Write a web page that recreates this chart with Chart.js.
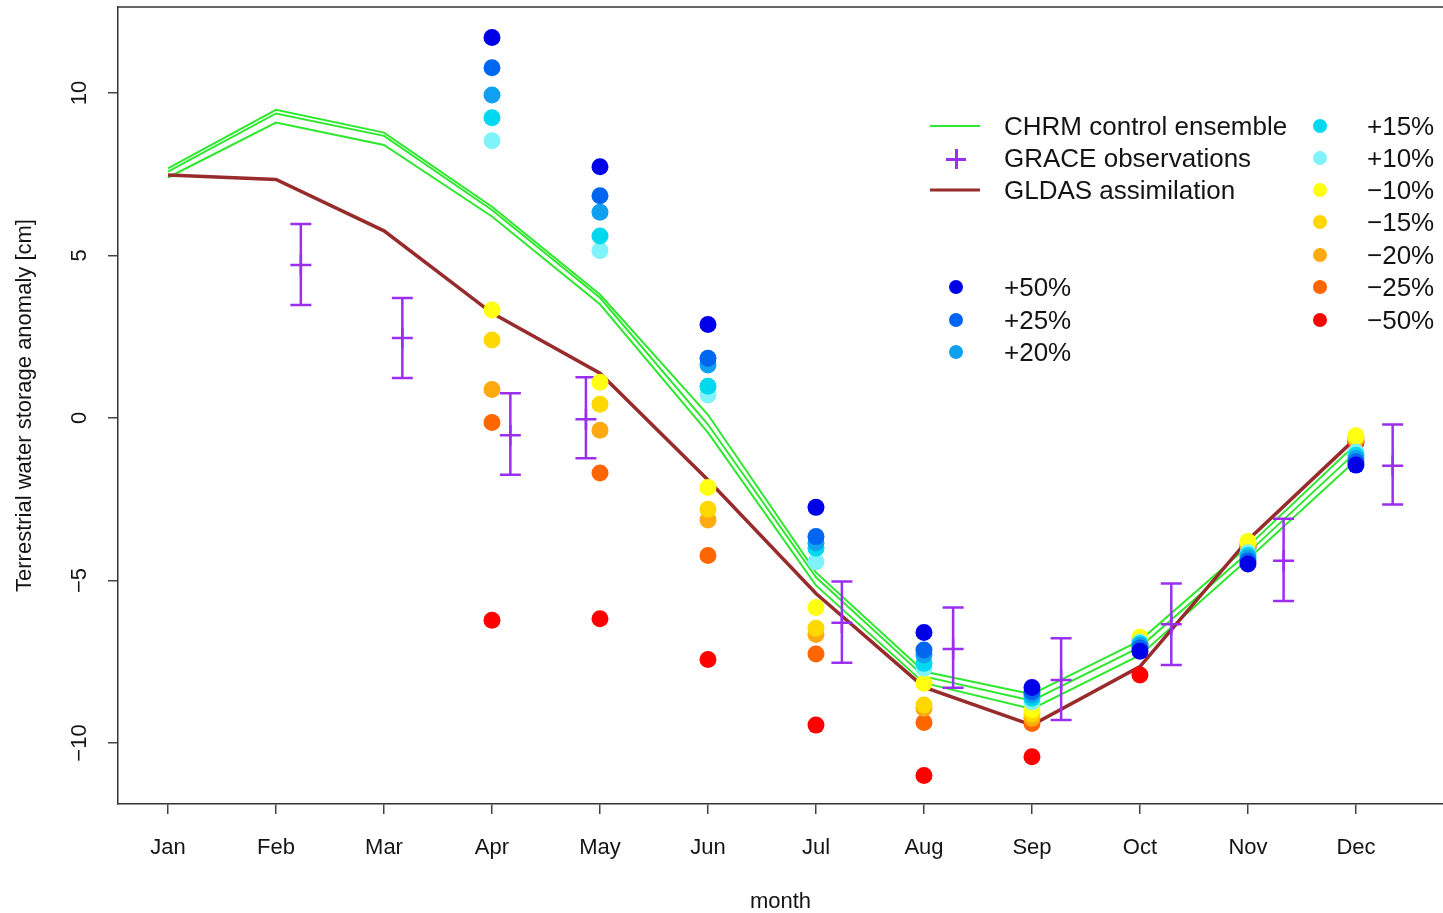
<!DOCTYPE html>
<html>
<head>
<meta charset="utf-8">
<script src="https://cdn.jsdelivr.net/npm/chart.js@4.4.0/dist/chart.umd.min.js"></script>
<style>
  html, body { margin: 0; padding: 0; background: #fff; }
  #wrap { position: relative; width: 1443px; height: 913px; overflow: hidden;
          font-family: "Liberation Sans", Arial, sans-serif; }
  canvas { display: block; }
  .lg-text { position: absolute; font-size: 26px; line-height: 1; color: #141414;
             white-space: nowrap; transform: translateY(-50%); }
  .lg-line { position: absolute; width: 50px; transform: translateY(-50%); }
  .lg-dot { position: absolute; width: 14px; height: 14px; border-radius: 50%;
            transform: translate(-50%, -50%); }
  .lg-plus { position: absolute; width: 20px; height: 20px; transform: translate(-50%, -50%); }
  .lg-plus:before, .lg-plus:after { content: ""; position: absolute; background: #9a2ff0; }
  .lg-plus:before { left: 0; right: 0; top: 9px; height: 2.5px; }
  .lg-plus:after { top: 0; bottom: 0; left: 9px; width: 2.5px; }
</style>
</head>
<body>
<div id="wrap">
  <canvas id="c" width="1443" height="913"></canvas>
  <div id="legend"></div>
</div>
<script>
// month axis
const months = ['Jan', 'Feb', 'Mar', 'Apr', 'May', 'Jun', 'Jul', 'Aug', 'Sep', 'Oct', 'Nov', 'Dec'];
const monthNum = [1, 2, 3, 4, 5, 6, 7, 8, 9, 10, 11, 12];
const yTicks = [-10, -5, 0, 5, 10];

// CHRM control ensemble (three members)
const chrmA = [7.68, 9.48, 8.78, 6.50, 3.80, 0.10, -4.75, -7.80, -8.50, -6.85, -3.95, -0.80];
const chrmB = [7.58, 9.37, 8.68, 6.40, 3.70, -0.20, -4.90, -7.95, -8.70, -7.05, -4.15, -1.05];
const chrmC = [7.40, 9.09, 8.40, 6.20, 3.50, -0.45, -5.15, -8.15, -8.95, -7.30, -4.35, -1.30];

// GLDAS assimilation
const gldas = [7.48, 7.34, 5.76, 3.23, 1.38, -1.91, -5.40, -8.28, -9.45, -7.65, -3.75, -0.62];

// GRACE observations with error range
const graceMonth = [2.23, 3.17, 4.17, 4.87, 7.24, 8.27, 9.27, 10.29, 11.33, 12.34];
const graceMean = [4.71, 2.46, -0.53, -0.04, -6.30, -7.11, -8.06, -6.35, -4.39, -1.47];
const graceLow = [3.48, 1.23, -1.75, -1.24, -7.53, -8.30, -9.29, -7.60, -5.63, -2.66];
const graceHigh = [5.97, 3.69, 0.76, 1.25, -5.03, -5.83, -6.78, -5.09, -3.10, -0.20];

// sensitivity runs, Apr..Dec
const sensMonths = [4, 5, 6, 7, 8, 9, 10, 11, 12];
const p50 = [11.71, 7.73, 2.88, -2.75, -6.60, -8.29, -7.18, -4.49, -1.45];
const p25 = [10.78, 6.84, 1.84, -3.65, -7.14, -8.42, -7.08, -4.40, -1.35];
const p20 = [9.94, 6.33, 1.63, -3.84, -7.29, -8.52, -7.00, -4.30, -1.25];
const p15 = [9.24, 5.60, 0.98, -4.01, -7.55, -8.62, -6.95, -4.22, -1.15];
const p10 = [8.53, 5.15, 0.71, -4.42, -7.70, -8.73, -6.90, -4.15, -1.05];
const m10 = [3.32, 1.10, -2.14, -5.83, -8.16, -8.98, -6.75, -3.80, -0.55];
const m15 = [2.40, 0.42, -2.81, -6.47, -8.83, -9.11, -6.80, -3.85, -0.60];
const m20 = [0.88, -0.38, -3.14, -6.66, -8.93, -9.24, -6.85, -3.90, -0.65];
const m25 = [-0.14, -1.69, -4.23, -7.26, -9.37, -9.40, -6.95, -3.95, -0.70];
const m50 = [-6.22, -6.18, -7.43, -9.45, -11.00, -10.42, -7.91, -4.00, -0.75];

const sensLabels = ['+50%', '+25%', '+20%', '+15%', '+10%', '\u221210%', '\u221215%', '\u221220%', '\u221225%', '\u221250%'];
const sensSeries = [p50, p25, p20, p15, p10, m10, m15, m20, m25, m50];
const sensColors = ['#0000e8', '#0066f0', '#10a0f0', '#00d8f0', '#80f2fa', '#ffff10', '#ffd800', '#ffaa10', '#ff6600', '#ff0000'];

const GREEN = '#2ee82e';
const BROWN = '#982b2b';
const PURPLE = '#9a2ff0';
const FONT = '"Liberation Sans", Arial, sans-serif';

Chart.defaults.font.family = FONT;

const pts = (xs, ys) => xs.map((x, i) => ({ x: x, y: ys[i] }));

const datasets = [];
sensSeries.forEach((s, i) => {
    datasets.push({
        label: sensLabels[i],
        data: pts(sensMonths, s),
        showLine: false,
        pointRadius: 8.5,
        pointBorderWidth: 0,
        pointBackgroundColor: sensColors[i],
        order: i + 1
    });
});
datasets.push({
    label: 'GRACE observations',
    data: pts(graceMonth, graceMean),
    showLine: false,
    pointStyle: 'cross',
    pointRadius: 10.5,
    pointBorderWidth: 2.5,
    pointBorderColor: PURPLE,
    order: 11
});
datasets.push({
    label: 'GLDAS assimilation',
    data: pts(monthNum, gldas),
    borderColor: BROWN,
    borderWidth: 3.5,
    pointRadius: 0,
    tension: 0,
    order: 12
});
[chrmA, chrmB, chrmC].forEach((s, i) => {
    datasets.push({
        label: 'CHRM control ensemble',
        data: pts(monthNum, s),
        borderColor: GREEN,
        borderWidth: 2,
        pointRadius: 0,
        tension: 0,
        order: 13 + i
    });
});
const graceIndex = sensSeries.length;

// error bars for GRACE
const errorBars = {
    id: 'errorBars',
    afterDatasetDraw(chart, args) {
        if (args.index !== graceIndex) return;
        const { ctx, scales: { x, y } } = chart;
        ctx.save();
        ctx.strokeStyle = PURPLE;
        ctx.lineWidth = 2.5;
        graceMonth.forEach((m, i) => {
            const px = x.getPixelForValue(m);
            const lo = y.getPixelForValue(graceLow[i]);
            const hi = y.getPixelForValue(graceHigh[i]);
            ctx.beginPath();
            ctx.moveTo(px, lo); ctx.lineTo(px, hi);
            ctx.moveTo(px - 10.5, lo); ctx.lineTo(px + 10.5, lo);
            ctx.moveTo(px - 10.5, hi); ctx.lineTo(px + 10.5, hi);
            ctx.stroke();
        });
        ctx.restore();
    }
};

// frame top line + rotated y tick labels
const frame = {
    id: 'frame',
    afterDraw(chart) {
        const { ctx, chartArea: a, scales: { y } } = chart;
        ctx.save();
        ctx.strokeStyle = '#333';
        ctx.lineWidth = 1.5;
        ctx.beginPath();
        ctx.moveTo(a.left, a.top); ctx.lineTo(a.right, a.top);
        ctx.stroke();
        ctx.fillStyle = '#141414';
        ctx.font = '22px ' + FONT;
        ctx.textAlign = 'center';
        ctx.textBaseline = 'middle';
        yTicks.forEach(v => {
            ctx.save();
            ctx.translate(80, y.getPixelForValue(v));
            ctx.rotate(-Math.PI / 2);
            ctx.fillText(String(v).replace('-', '\u2212'), 0, 0);
            ctx.restore();
        });
        ctx.restore();
    }
};

const noPad = s => {
    s.paddingLeft = 0; s.paddingRight = 0;
    s.paddingTop = 0; s.paddingBottom = 0;
};

new Chart(document.getElementById('c'), {
    type: 'line',
    data: { datasets: datasets },
    options: {
        responsive: false,
        animation: false,
        layout: { autoPadding: false, padding: { top: 7, right: 0, bottom: 0, left: 0 } },
        plugins: { legend: { display: false }, tooltip: { enabled: false } },
        scales: {
            x: {
                type: 'linear',
                min: 0.537,
                max: 12.806,
                afterFit: s => { s.height = 109; noPad(s); },
                afterBuildTicks: s => { s.ticks = monthNum.map(v => ({ value: v })); },
                ticks: {
                    callback: v => months[v - 1],
                    font: { size: 22 },
                    color: '#141414',
                    padding: 21,
                    maxRotation: 0,
                    autoSkip: false
                },
                grid: { drawOnChartArea: false, drawTicks: true, tickLength: 10, color: '#444', lineWidth: 1.5 },
                border: { display: true, color: '#333', width: 1.5 },
                title: { display: true, text: 'month', font: { size: 22 }, color: '#141414', padding: { top: 0, bottom: -2 } }
            },
            y: {
                type: 'linear',
                min: -11.877,
                max: 12.646,
                afterFit: s => { s.width = 118; noPad(s); },
                afterBuildTicks: s => { s.ticks = yTicks.map(v => ({ value: v })); },
                ticks: { display: false },
                grid: { drawOnChartArea: false, drawTicks: true, tickLength: 10, color: '#444', lineWidth: 1.5 },
                border: { display: true, color: '#333', width: 1.5 },
                title: {
                    display: true,
                    text: 'Terrestrial water storage anomaly [cm]',
                    font: { size: 22 },
                    color: '#141414',
                    padding: { top: 12, bottom: 0 }
                }
            }
        }
    },
    plugins: [errorBars, frame]
});

// legend (HTML)
const legend = document.getElementById('legend');
function add(cls, style, text) {
    const d = document.createElement('div');
    d.className = cls;
    Object.assign(d.style, style);
    if (text) d.textContent = text;
    legend.appendChild(d);
}
const rowY = [126, 158, 190, 222, 255, 287, 320, 352];
add('lg-line', { left: '930px', top: rowY[0] + 'px', height: '2px', background: GREEN });
add('lg-text', { left: '1004px', top: rowY[0] + 'px' }, 'CHRM control ensemble');
add('lg-plus', { left: '956px', top: (rowY[1] + 1) + 'px' });
add('lg-text', { left: '1004px', top: rowY[1] + 'px' }, 'GRACE observations');
add('lg-line', { left: '930px', top: rowY[2] + 'px', height: '3px', background: BROWN });
add('lg-text', { left: '1004px', top: rowY[2] + 'px' }, 'GLDAS assimilation');
sensLabels.forEach((lab, i) => {
    let dx, tx, ry;
    if (i < 3) { dx = 956; tx = 1004; ry = rowY[5 + i]; }
    else { dx = 1320; tx = 1367; ry = rowY[i - 3]; }
    add('lg-dot', { left: dx + 'px', top: ry + 'px', background: sensColors[i] });
    add('lg-text', { left: tx + 'px', top: ry + 'px' }, lab);
});
</script>
</body>
</html>
